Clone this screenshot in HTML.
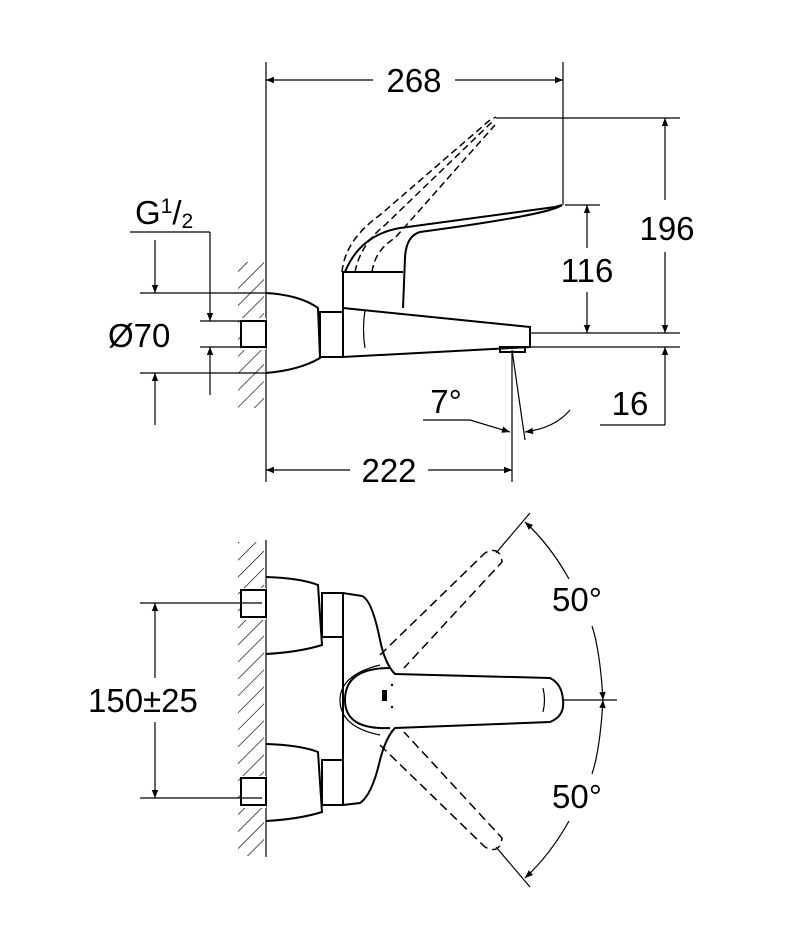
<!DOCTYPE html>
<html><head><meta charset="utf-8"><style>
html,body{margin:0;padding:0;background:#fff}
svg{display:block}
text{font-family:"Liberation Sans",sans-serif;font-size:33px;fill:#000}
</style></head><body>
<svg width="791" height="950" viewBox="0 0 791 950" xmlns="http://www.w3.org/2000/svg">
<defs>
<pattern id="h" width="12" height="12" patternUnits="userSpaceOnUse" patternTransform="rotate(45)">
<line x1="0" y1="0" x2="0" y2="12" stroke="#000" stroke-width="1.3"/></pattern>
<marker id="a" viewBox="0 0 10 10" refX="10" refY="5" markerWidth="18" markerHeight="8" markerUnits="userSpaceOnUse" orient="auto-start-reverse"><path d="M0,1 L10,5 L0,9 Z" fill="#000"/></marker>
</defs>
<g stroke="#000" fill="none" stroke-width="1.2">
<!-- TOP VIEW -->
<line x1="266" y1="62" x2="266" y2="482"/>
<rect x="238" y="262" width="26" height="146" fill="url(#h)" stroke="none"/>
<rect x="240" y="318" width="26" height="32" fill="#fff" stroke="none"/>
<g stroke-width="2">
<path d="M266,293 Q300,295 318,308 L320,358 Q300,370 266,373"/>
<rect x="241" y="321" width="25" height="26"/>
<rect x="320" y="312" width="23" height="45"/>
<path d="M343,308 L530,327 L530,347 L343,357 Z"/>
<path d="M343,308 L343,272 L403,272"/>
<path d="M345,272 Q360,235 400,228 L555,207 L562,205 Q548,215 420,232 Q406,236 405,258 L403,308"/>
<rect x="500" y="347" width="25" height="5"/>
</g>
<path d="M365,310 Q362,330 365,348"/>
<g stroke-dasharray="7,4" stroke-width="1.5">
<path d="M342,272 Q345,240 380,215 L490,120 L496,117"/>
<path d="M355,272 Q360,245 385,225 L492,122"/>
<path d="M372,272 Q375,250 395,238 L495,125"/>
</g>
<!-- dims top -->
<line x1="266" y1="80" x2="373" y2="80" marker-start="url(#a)"/>
<line x1="455" y1="80" x2="563" y2="80" marker-end="url(#a)"/>
<line x1="563" y1="62" x2="563" y2="205"/>
<line x1="496" y1="118" x2="680" y2="118"/>
<line x1="530" y1="333" x2="680" y2="333"/>
<line x1="665" y1="118" x2="665" y2="200" marker-start="url(#a)"/>
<line x1="665" y1="252" x2="665" y2="333" marker-end="url(#a)"/>
<line x1="565" y1="205" x2="600" y2="205"/>
<line x1="587" y1="205" x2="587" y2="248" marker-start="url(#a)"/>
<line x1="587" y1="292" x2="587" y2="333" marker-end="url(#a)"/>
<line x1="515" y1="347" x2="680" y2="347"/>
<line x1="665" y1="425" x2="665" y2="347" marker-end="url(#a)"/>
<line x1="600" y1="425" x2="665" y2="425"/>
<line x1="512" y1="350" x2="512" y2="482"/>
<line x1="512" y1="350" x2="525" y2="440"/>
<path d="M423,420 L470,420 L510,432" marker-end="url(#a)"/>
<path d="M570,410 Q555,428 525,432" marker-end="url(#a)"/>
<line x1="266" y1="470" x2="350" y2="470" marker-start="url(#a)"/>
<line x1="428" y1="470" x2="512" y2="470" marker-end="url(#a)"/>
<line x1="130" y1="232" x2="210" y2="232"/>
<line x1="210" y1="232" x2="210" y2="321" marker-end="url(#a)"/>
<line x1="210" y1="395" x2="210" y2="347" marker-end="url(#a)"/>
<line x1="200" y1="321" x2="240" y2="321"/>
<line x1="200" y1="347" x2="240" y2="347"/>
<line x1="140" y1="293" x2="266" y2="293"/>
<line x1="140" y1="373" x2="266" y2="373"/>
<line x1="155" y1="240" x2="155" y2="293" marker-end="url(#a)"/>
<line x1="155" y1="425" x2="155" y2="373" marker-end="url(#a)"/>
<!-- BOTTOM VIEW -->
<line x1="266" y1="540" x2="266" y2="857"/>
<rect x="238" y="542" width="26" height="314" fill="url(#h)" stroke="none"/>
<rect x="240" y="588" width="26" height="32" fill="#fff" stroke="none"/>
<rect x="240" y="776" width="26" height="32" fill="#fff" stroke="none"/>
<g stroke-width="2">
<path d="M266,577 Q300,578 318,585 L322,645 Q300,652 266,654"/>
<path d="M266,744 Q300,745 318,752 L322,812 Q300,819 266,821"/>
<rect x="241" y="590" width="25" height="27"/>
<rect x="241" y="778" width="25" height="27"/>
<rect x="322" y="593" width="21" height="44"/>
<rect x="322" y="760" width="21" height="45"/>
<path d="M343,593 L343,805 L360,803 Q372,795 380,760 Q386,737 395,728 L550,722 Q565,716 563,700 Q562,684 550,678 L395,674 Q385,664 380,640 Q372,600 362,596 Z"/>
<path d="M390,728 Q345,730 345,700 Q345,668 390,668"/>
</g>
<path d="M380,665 Q340,675 340,700 Q340,727 380,735"/>
<path d="M543,688 Q546,700 543,712"/>
<g stroke-dasharray="9,5" stroke-width="1.5">
<path d="M380,655 L485,553 Q500,545 502,562 L404,668"/>
<path d="M380,745 L485,847 Q500,855 502,838 L404,732"/>
</g>
<line x1="563" y1="700" x2="617" y2="700"/>
<line x1="496" y1="553" x2="530" y2="513"/>
<line x1="496" y1="847" x2="530" y2="887"/>
<path d="M569,579 Q550,545 525,522" marker-end="url(#a)"/>
<path d="M592,626 Q600,650 603,700" marker-end="url(#a)"/>
<path d="M592,774 Q600,750 603,700" marker-end="url(#a)"/>
<path d="M569,821 Q550,855 525,878" marker-end="url(#a)"/>
<line x1="140" y1="603" x2="262" y2="603"/>
<line x1="140" y1="798" x2="262" y2="798"/>
<line x1="155" y1="603" x2="155" y2="678" marker-start="url(#a)"/>
<line x1="155" y1="722" x2="155" y2="798" marker-end="url(#a)"/>
</g>
<g fill="#000">
<rect x="382" y="690" width="5" height="11"/>
<circle cx="392" cy="685" r="1.2"/><circle cx="392" cy="707" r="1.2"/>
</g>
<text x="414" y="92" text-anchor="middle">268</text>
<text x="667" y="240" text-anchor="middle">196</text>
<text x="587" y="282" text-anchor="middle">116</text>
<text x="630" y="415" text-anchor="middle">16</text>
<text x="446" y="413" text-anchor="middle">7°</text>
<text x="389" y="482" text-anchor="middle">222</text>
<text x="135" y="224">G<tspan font-size="21" dy="-11">1</tspan><tspan dy="11">/</tspan><tspan font-size="21" dy="4">2</tspan></text>
<text x="108" y="347">Ø70</text>
<text x="88" y="712">150±25</text>
<text x="552" y="611">50°</text>
<text x="552" y="808">50°</text>
</svg>
</body></html>
